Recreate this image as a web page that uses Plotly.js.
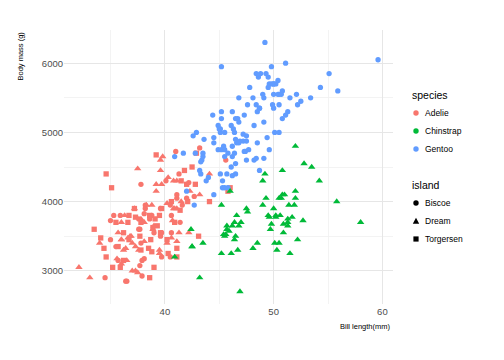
<!DOCTYPE html>
<html><head><meta charset="utf-8">
<script src="https://cdn.plot.ly/plotly-3.0.1.min.js"></script>
<style>html,body{margin:0;padding:0;background:#fff;}#chart{width:504px;height:360px;}</style>
</head><body><div id="chart"></div>
<script>
// ---- categories ----
const speciesNames = ['Adelie', 'Chinstrap', 'Gentoo'];
const speciesColors = ['#F8766D', '#00BA38', '#619CFF'];
const islandNames = ['Biscoe', 'Dream', 'Torgersen'];
const islandSymbols = ['circle', 'triangle-up', 'square'];
const xTicks = [40, 50, 60];
const yTicks = [3000, 4000, 5000, 6000];

// ---- data: bill length (mm) and body mass (g) ----
const adelie_torgersen_bill = [39.1,39.5,40.3,36.7,39.3,38.9,39.2,34.1,42.0,37.8,37.8,41.1,38.6,34.6,36.6,38.7,42.5,34.4,46.0,
  35.9,41.8,33.5,39.7,39.6,45.8,35.5,42.8,40.9,37.2,36.2,42.1,34.6,42.9,36.7,35.1,
  38.6,37.3,35.7,41.1,36.2,37.7,40.2,41.4,35.2,40.6,38.8,41.5,39.0,44.1,38.5,43.1];
const adelie_torgersen_mass = [3750,3800,3250,3450,3650,3625,4675,3475,4250,3300,3700,3200,3800,4400,3700,3450,4500,3325,4200,
  3050,4450,3600,3900,3550,4150,3700,4250,3700,3900,3550,4000,3200,4700,3800,4200,
  2900,3775,3350,3325,3150,3500,3450,3875,3050,4000,3275,4300,3050,4000,3325,3500];
const adelie_biscoe_bill = [37.8,37.7,35.9,38.2,38.8,35.3,40.6,40.5,37.9,40.5,
  39.6,40.1,35.0,42.0,34.5,41.4,39.0,40.6,36.5,37.6,35.7,41.3,37.6,41.1,36.4,41.6,35.5,41.1,
  35.0,41.0,37.7,37.8,37.9,39.7,38.6,38.2,38.1,43.2,38.1,45.6,39.7,42.2,39.6,42.7];
const adelie_biscoe_mass = [3400,3600,3800,3950,3800,3800,3550,3200,3150,3950,
  3500,4300,3450,4050,2900,3700,3550,3800,2850,3750,3150,4400,3600,4050,2850,3950,3350,4100,
  3725,4725,3075,4250,2925,3550,3750,3900,3175,4775,3825,4600,3200,4275,3900,4075];
const adelie_dream_bill = [39.5,37.2,39.5,40.9,36.4,39.2,38.8,42.2,37.6,39.8,36.5,40.8,36.0,44.1,37.0,39.6,41.1,37.5,36.0,42.3,
  37.3,41.3,36.3,36.9,38.3,38.9,35.7,41.1,34.0,39.6,36.2,40.8,38.1,40.3,33.1,43.2,
  36.8,37.5,38.1,41.1,35.6,40.2,37.0,39.7,40.2,40.6,32.1,40.7,37.3,39.0,39.2,36.6,36.0,37.8,36.0,41.5];
const adelie_dream_mass = [3250,3900,3300,3900,3325,4150,3950,3550,3300,4650,3150,3900,3100,4400,3000,4600,3425,2975,3450,4150,
  3350,3550,3800,3500,3950,3600,3550,4300,3400,4450,3300,4300,3700,4350,2900,4100,
  3500,4475,3425,3900,3175,3975,3400,4250,3400,3475,3050,3725,3000,3650,4250,3475,3450,3750,3700,4000];
const gentoo_biscoe_bill = [46.1,50.0,48.7,50.0,47.6,46.5,45.4,46.7,43.3,46.8,40.9,49.0,45.5,48.4,45.8,49.3,42.0,49.2,46.2,48.7,
  50.2,45.1,46.5,46.3,42.9,46.1,44.5,47.8,48.2,50.0,47.3,42.8,45.1,59.6,49.1,48.4,42.6,44.4,44.0,48.7,
  42.7,49.6,45.3,49.6,50.5,43.6,45.5,50.5,44.9,45.2,46.6,48.5,45.1,50.1,46.5,45.0,43.8,45.5,43.2,50.4,
  45.3,46.2,45.7,54.3,45.8,49.8,46.2,49.5,43.5,50.7,47.7,46.4,48.2,46.5,46.4,48.6,47.5,51.1,45.2,45.2,
  49.1,52.5,47.4,50.0,44.9,50.8,43.4,51.3,47.5,52.1,47.5,52.2,45.5,49.5,44.5,50.8,49.4,46.9,48.4,51.1,
  48.5,55.9,47.2,49.1,47.3,46.8,41.7,53.4,43.3,48.1,50.5,49.8,43.5,51.5,46.2,55.1,44.5,48.8,47.2,46.8,
  50.4,45.2,49.9];
const gentoo_biscoe_mass = [4500,5700,4450,5700,5400,4550,4800,5200,4400,5150,4650,5550,4650,5850,4200,5850,4150,6300,4800,5350,
  5700,5000,4400,5050,5000,5100,4100,5650,4600,5550,5250,4700,5050,6050,5150,5400,4950,5250,4350,5350,
  3950,5700,4300,4750,5550,4900,4200,5400,5100,5300,4850,5300,4400,5000,4900,5050,4300,5000,4450,5550,
  4200,5300,4400,5650,4700,5700,4650,5800,4700,5550,4750,5000,5100,5200,4700,5800,4600,6000,4750,5950,
  4625,5450,4725,5350,4750,5600,4600,5300,4875,5550,4950,5400,4750,5650,4850,5200,4925,4875,4625,5250,
  4850,5600,4975,5500,4725,5500,4700,5500,4575,5500,5000,5950,4650,5500,4375,5850,4925,5850,4875,4850,
  5750,5200,5400];
const chinstrap_dream_bill = [46.5,50.0,51.3,45.4,52.7,45.2,46.1,51.3,46.0,51.3,46.6,51.7,47.0,52.0,45.9,50.5,50.3,58.0,46.4,49.2,
  42.4,48.5,43.2,50.6,46.7,52.0,50.5,49.5,46.4,52.8,40.9,54.2,42.5,51.0,49.7,47.5,47.6,52.0,46.9,53.5,
  49.0,46.2,50.9,45.5,50.9,50.8,50.1,49.0,51.5,49.8,48.1,51.4,45.7,50.7,42.5,52.2,45.2,49.3,50.2,45.6,
  51.9,46.8,45.7,55.8,43.5,49.6,50.8,50.2];
const chinstrap_dream_mass = [3500,3900,3650,3525,3725,3950,3250,3750,4150,3700,3800,3775,3700,4050,3575,4050,3300,3700,3450,4400,
  3600,3400,2900,3800,3300,4150,3400,3800,3700,4550,3200,4300,3350,4100,3600,3900,3850,4800,2700,4500,
  3950,3650,3550,3500,3675,4450,3400,4300,3250,3675,3325,3950,3600,4050,3350,3450,3250,4050,3800,3525,
  3950,3650,3650,4000,3400,3775,4100,3775];

// ---- groups (drawing order follows the data) ----
const groups = [
  {sp: 0, is: 2, x: adelie_torgersen_bill, y: adelie_torgersen_mass},
  {sp: 0, is: 0, x: adelie_biscoe_bill, y: adelie_biscoe_mass},
  {sp: 0, is: 1, x: adelie_dream_bill, y: adelie_dream_mass},
  {sp: 2, is: 0, x: gentoo_biscoe_bill, y: gentoo_biscoe_mass},
  {sp: 1, is: 1, x: chinstrap_dream_bill, y: chinstrap_dream_mass}
];

const W = 504, H = 360, M = {l: 64, r: 111, t: 30, b: 56};
const px2x = p => (p - M.l) / (W - M.l - M.r);
const px2y = p => (H - M.b - p) / (H - M.t - M.b);
const FONT = 'Liberation Sans, Arial, Helvetica, sans-serif';
const markerSize = {circle: 5.3, 'triangle-up': 6.5, square: 5.3};

const traces = groups.map(g => ({
  type: 'scatter', mode: 'markers', x: g.x, y: g.y,
  name: speciesNames[g.sp] + ' / ' + islandNames[g.is], showlegend: false, hoverinfo: 'x+y',
  marker: {color: speciesColors[g.sp], symbol: islandSymbols[g.is], size: markerSize[islandSymbols[g.is]], line: {width: 0}}
}));

const allX = groups.flatMap(g => g.x), allY = groups.flatMap(g => g.y);
function expand(a) { const mn = Math.min(...a), mx = Math.max(...a), d = (mx - mn) * 0.05; return [mn - d, mx + d]; }

// ---- legend built from annotations + pixel shapes ----
const annotations = [], shapes = [];
const legX = 410, glyphX = 416, textX = 423;
function legendBlock(title, titleY, labels, kind) {
  annotations.push({xref: 'paper', yref: 'paper', x: px2x(legX), y: px2y(titleY), xanchor: 'left', yanchor: 'middle',
    text: title, showarrow: false, font: {family: FONT, size: 10.5, color: '#000'}});
  labels.forEach((lab, i) => {
    const cy = titleY + 18 * (i + 1);
    annotations.push({xref: 'paper', yref: 'paper', x: px2x(textX), y: px2y(cy), xanchor: 'left', yanchor: 'middle',
      text: lab, showarrow: false, font: {family: FONT, size: 8.5, color: '#000'}});
    const sym = kind === 'species' ? 'circle' : islandSymbols[i];
    const col = kind === 'species' ? speciesColors[i] : '#000';
    const base = {xref: 'paper', yref: 'paper', xsizemode: 'pixel', ysizemode: 'pixel',
      xanchor: px2x(glyphX), yanchor: px2y(cy), fillcolor: col, line: {width: 0}};
    if (sym === 'circle') shapes.push(Object.assign({type: 'circle', x0: -2.7, x1: 2.7, y0: -2.7, y1: 2.7}, base));
    else if (sym === 'square') shapes.push(Object.assign({type: 'rect', x0: -2.6, x1: 2.6, y0: -2.6, y1: 2.6}, base));
    else shapes.push(Object.assign({type: 'path', path: 'M-3.2,-2.7L3.2,-2.7L0,3.2Z'}, base));
  });
}
legendBlock('species', 95, speciesNames, 'species');
legendBlock('island', 185, islandNames, 'island');

// axis titles
annotations.push({xref: 'paper', yref: 'paper', x: 1, y: px2y(326), xanchor: 'right', yanchor: 'middle',
  text: 'Bill length(mm)', showarrow: false, font: {family: FONT, size: 7.5, color: '#000'}});
annotations.push({xref: 'paper', yref: 'paper', x: px2x(20), y: 1, xanchor: 'center', yanchor: 'top', textangle: -90,
  text: 'Body mass (g)', showarrow: false, font: {family: FONT, size: 7.5, color: '#000'}});

const axisBase = {
  showline: false, zeroline: false, ticks: '', showgrid: true,
  gridcolor: '#E6E6E6', gridwidth: 1,
  tickfont: {family: FONT, size: 9.5, color: '#4D4D4D'}
};
const layout = {
  width: W, height: H, margin: M,
  paper_bgcolor: '#fff', plot_bgcolor: '#fff', showlegend: false,
  xaxis: Object.assign({}, axisBase, {range: expand(allX), tickvals: xTicks, ticktext: xTicks.map(String),
    minor: {tickvals: [35, 45, 55], showgrid: true, gridcolor: '#F0F0F0', gridwidth: 0.8}}),
  yaxis: Object.assign({}, axisBase, {range: expand(allY), tickvals: yTicks, ticktext: yTicks.map(String),
    minor: {tickvals: [2500, 3500, 4500, 5500, 6500], showgrid: true, gridcolor: '#F0F0F0', gridwidth: 0.8}}),
  annotations: annotations, shapes: shapes
};
Plotly.newPlot('chart', traces, layout, {staticPlot: true, displayModeBar: false});
</script></body></html>
